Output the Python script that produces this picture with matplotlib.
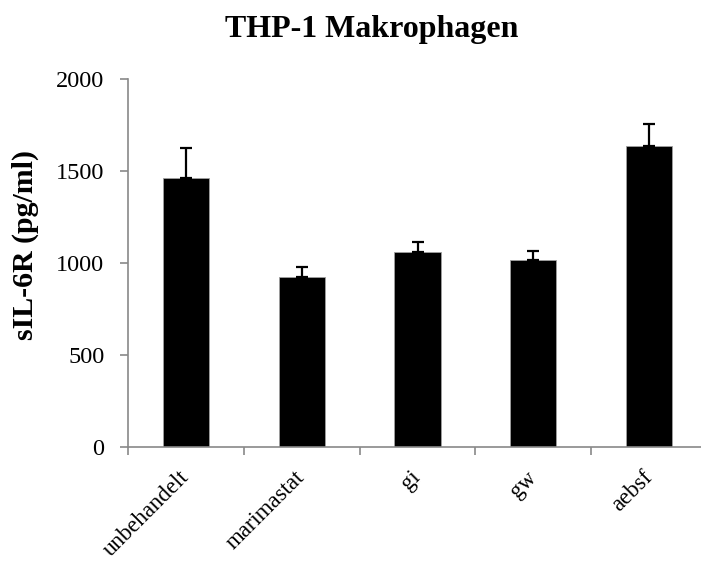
import matplotlib
matplotlib.use("Agg")
import matplotlib.pyplot as plt
import numpy as np

# === D A T A ===
categories = ["unbehandelt", "marimastat", "gi", "gw", "aebsf"]
means = [1460, 925, 1058, 1015, 1635]
sd_up = [165, 50, 55, 52, 122]

title = "THP-1 Makrophagen"
ylabel = "sIL-6R (pg/ml)"
yticks = [0, 500, 1000, 1500, 2000]

# === P L O T ===
plt.rcParams['font.family'] = ['Liberation Serif', 'DejaVu Serif']
axis_grey = '#898989'

fig = plt.figure(figsize=(7.01, 5.65), dpi=100)
W, H = 701, 565
left, right = 128, 707
bottom, top = 446.7, 79
ax = fig.add_axes([left / W, 1 - bottom / H, (right - left) / W, (bottom - top) / H])

x = np.arange(len(categories)) + 0.5
ax.bar(x, means, width=0.4, color='black', edgecolor='#a0a0a0', linewidth=0.6, zorder=2)
ax.errorbar(x, means, yerr=[np.zeros(len(means)), sd_up], fmt='none',
            ecolor='black', elinewidth=1.6, capsize=4, capthick=1.6, zorder=3)

ax.set_xlim(0, len(categories))
ax.set_ylim(0, 2000)
ax.set_yticks(yticks)
ax.set_yticklabels([str(v) for v in yticks], fontsize=17.5)

# ticks sit between categories, labels at the centres
ax.set_xticks(np.arange(len(categories)))
ax.set_xticklabels([])
ax.set_xticks(x, minor=True)
ax.set_xticklabels(categories, minor=True, rotation=45, ha='right',
                   va='center', rotation_mode='anchor', fontsize=16.5)
ax.tick_params(axis='x', which='minor', length=0, pad=20)
ax.tick_params(axis='x', which='major', length=6, width=1.2, color=axis_grey, direction='out')
ax.tick_params(axis='y', length=6, width=1.2, color=axis_grey, direction='out', pad=11)

for s in ['top', 'right']:
    ax.spines[s].set_visible(False)
for s in ['left', 'bottom']:
    ax.spines[s].set_color(axis_grey)
    ax.spines[s].set_linewidth(1.2)

fig.text(25 / W, 1 - 245.5 / H, ylabel, fontsize=21.5, fontweight='bold',
         rotation=90, ha='center', va='center')
fig.text(372 / W, 1 - 37 / H, title, fontsize=23, fontweight='bold',
         ha='center', va='baseline')

fig.savefig("out.png", dpi=100)
